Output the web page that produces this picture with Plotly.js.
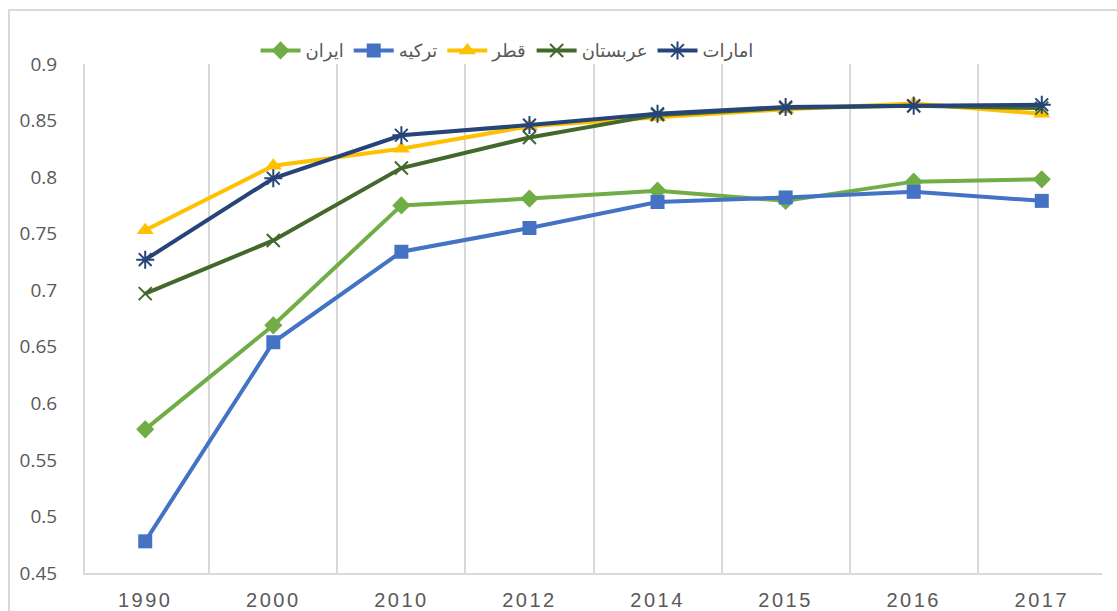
<!DOCTYPE html>
<html>
<head>
<meta charset="utf-8">
<script src="https://cdn.plot.ly/plotly-3.0.1.min.js"></script>
<style>
  html, body { margin: 0; padding: 0; overflow: hidden; background: #fff; }
  #wrap { position: relative; width: 1117px; height: 611px; }
  #chart { position: absolute; left: 0; top: 0; width: 1117px; height: 611px; }
  #frame { position: absolute; left: 8px; top: 9px; width: 1200px; height: 700px;
           border: 2px solid #D9D9D9; box-sizing: border-box; pointer-events: none; }
  .xtick text { letter-spacing: 2.5px; }
</style>
</head>
<body>
<div id="wrap">
  <div id="frame"></div>
  <div id="chart"></div>
</div>
<script>
const years = ['1990', '2000', '2010', '2012', '2014', '2015', '2016', '2017'];
const seriesNames = ['ایران', 'ترکیه', 'قطر', 'عربستان', 'امارات'];
const iran   = [0.577, 0.669, 0.775, 0.781, 0.788, 0.779, 0.796, 0.798];
const turkey = [0.478, 0.654, 0.734, 0.755, 0.778, 0.782, 0.787, 0.779];
const qatar  = [0.753, 0.810, 0.825, 0.845, 0.853, 0.860, 0.865, 0.856];
const saudi  = [0.697, 0.744, 0.808, 0.835, 0.855, 0.861, 0.863, 0.861];
const uae    = [0.727, 0.799, 0.837, 0.846, 0.856, 0.862, 0.863, 0.864];
const yTicks = [0.45, 0.5, 0.55, 0.6, 0.65, 0.7, 0.75, 0.8, 0.85, 0.9];

const colors = ['#70AD47', '#4472C4', '#FFC000', '#43682B', '#264478'];
const symbols = ['diamond', 'square', 'triangle-up', 'x-thin-open', 'asterisk-open'];
const sizes = [14, 14, 15, 13, 15];
const data = [iran, turkey, qatar, saudi, uae];

const traces = data.map((vals, i) => ({
  type: 'scatter',
  mode: 'lines+markers',
  name: seriesNames[i],
  x: years,
  y: vals,
  line: { color: colors[i], width: 4 },
  marker: {
    symbol: symbols[i],
    size: sizes[i],
    color: colors[i],
    line: { color: colors[i], width: (i >= 3) ? 2 : 0 }
  }
}));

const layout = {
  width: 1117,
  height: 611,
  paper_bgcolor: 'rgba(0,0,0,0)',
  plot_bgcolor: 'rgba(0,0,0,0)',
  margin: { l: 85, r: 15, t: 64, b: 38 },
  showlegend: true,
  legend: {
    orientation: 'h',
    x: 0.415, xanchor: 'center',
    y: 1.026, yanchor: 'middle',
    font: { family: 'DejaVu Sans, Noto Sans, sans-serif', size: 18, color: '#595959' },
    itemwidth: 40,
    traceorder: 'normal'
  },
  xaxis: {
    type: 'category',
    tickson: 'boundaries',
    showgrid: true,
    gridcolor: '#D9D9D9',
    gridwidth: 2,
    showline: true,
    linecolor: '#D9D9D9',
    linewidth: 2,
    ticks: '',
    ticklabelstandoff: 8,
    tickfont: { family: 'Liberation Sans Narrow, Liberation Sans, Arial, sans-serif', size: 20, color: '#595959' },
    zeroline: false,
    fixedrange: true
  },
  yaxis: {
    range: [0.45, 0.9],
    tickvals: yTicks,
    ticktext: yTicks.map(v => String(v)),
    showgrid: false,
    showline: true,
    linecolor: '#D9D9D9',
    linewidth: 2,
    ticks: '',
    ticklabelstandoff: 22,
    tickfont: { family: 'Open Sans, sans-serif', size: 19, color: '#595959' },
    zeroline: false,
    fixedrange: true
  }
};

Plotly.newPlot('chart', traces, layout, { displayModeBar: false, staticPlot: true });
</script>
</body>
</html>
